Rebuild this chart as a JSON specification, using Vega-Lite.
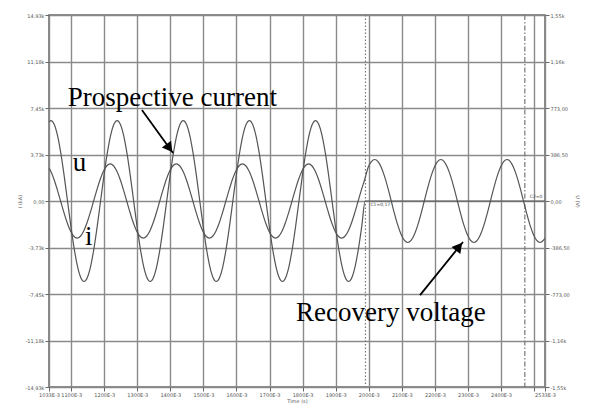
{
  "$schema": "https://vega.github.io/schema/vega-lite/v6.json",
  "width": 496,
  "height": 372,
  "autosize": "none",
  "padding": {"left": 49, "top": 15, "right": 48, "bottom": 19},
  "background": "white",
  "config": {
    "view": {"stroke": "#666", "strokeWidth": 1.5},
    "axis": {
      "labelFont": "DejaVu Sans", "labelFontSize": 5, "labelColor": "#555",
      "titleFont": "DejaVu Sans", "titleFontSize": 5, "titleFontWeight": "normal", "titleColor": "#555",
      "tickColor": "#666", "tickSize": 4, "domain": false,
      "gridColor": "#8a8a8a", "gridWidth": 1.4, "gridOpacity": 1
    }
  },
  "datasets": {
    "current": [
      {"t":1033,"v":6.33},
      {"t":1039,"v":6.45},{"t":1049,"v":6.13},{"t":1059,"v":5.22},{"t":1069,"v":3.79},{"t":1079,"v":1.99},{"t":1089,"v":0},{"t":1099,"v":-1.99},{"t":1109,"v":-3.79},{"t":1119,"v":-5.22},{"t":1129,"v":-6.13},{"t":1139,"v":-6.45},{"t":1149,"v":-6.13},{"t":1159,"v":-5.22},{"t":1169,"v":-3.79},{"t":1179,"v":-1.99},{"t":1189,"v":0},{"t":1199,"v":1.99},{"t":1209,"v":3.79},{"t":1219,"v":5.22},{"t":1229,"v":6.13},
      {"t":1239,"v":6.45},{"t":1249,"v":6.13},{"t":1259,"v":5.22},{"t":1269,"v":3.79},{"t":1279,"v":1.99},{"t":1289,"v":0},{"t":1299,"v":-1.99},{"t":1309,"v":-3.79},{"t":1319,"v":-5.22},{"t":1329,"v":-6.13},{"t":1339,"v":-6.45},{"t":1349,"v":-6.13},{"t":1359,"v":-5.22},{"t":1369,"v":-3.79},{"t":1379,"v":-1.99},{"t":1389,"v":0},{"t":1399,"v":1.99},{"t":1409,"v":3.79},{"t":1419,"v":5.22},{"t":1429,"v":6.13},
      {"t":1439,"v":6.45},{"t":1449,"v":6.13},{"t":1459,"v":5.22},{"t":1469,"v":3.79},{"t":1479,"v":1.99},{"t":1489,"v":0},{"t":1499,"v":-1.99},{"t":1509,"v":-3.79},{"t":1519,"v":-5.22},{"t":1529,"v":-6.13},{"t":1539,"v":-6.45},{"t":1549,"v":-6.13},{"t":1559,"v":-5.22},{"t":1569,"v":-3.79},{"t":1579,"v":-1.99},{"t":1589,"v":0},{"t":1599,"v":1.99},{"t":1609,"v":3.79},{"t":1619,"v":5.22},{"t":1629,"v":6.13},
      {"t":1639,"v":6.45},{"t":1649,"v":6.13},{"t":1659,"v":5.22},{"t":1669,"v":3.79},{"t":1679,"v":1.99},{"t":1689,"v":0},{"t":1699,"v":-1.99},{"t":1709,"v":-3.79},{"t":1719,"v":-5.22},{"t":1729,"v":-6.13},{"t":1739,"v":-6.45},{"t":1749,"v":-6.13},{"t":1759,"v":-5.22},{"t":1769,"v":-3.79},{"t":1779,"v":-1.99},{"t":1789,"v":0},{"t":1799,"v":1.99},{"t":1809,"v":3.79},{"t":1819,"v":5.22},{"t":1829,"v":6.13},
      {"t":1839,"v":6.45},{"t":1849,"v":6.13},{"t":1859,"v":5.22},{"t":1869,"v":3.79},{"t":1879,"v":1.99},{"t":1889,"v":0},{"t":1899,"v":-1.99},{"t":1909,"v":-3.79},{"t":1919,"v":-5.22},{"t":1929,"v":-6.13},{"t":1939,"v":-6.45},{"t":1949,"v":-6.13},{"t":1959,"v":-5.22},{"t":1969,"v":-3.79},{"t":1979,"v":-1.99},{"t":1989,"v":0},
      {"t":2533,"v":0}
    ],
    "voltage": [
      {"t":1033,"u":274},
      {"t":1038,"u":249},{"t":1048,"u":181},{"t":1058,"u":95},{"t":1068,"u":0},{"t":1078,"u":-95},{"t":1088,"u":-181},{"t":1098,"u":-249},{"t":1108,"u":-293},{"t":1118,"u":-308},{"t":1128,"u":-293},{"t":1138,"u":-249},{"t":1148,"u":-181},{"t":1158,"u":-95},{"t":1168,"u":0},{"t":1178,"u":95},{"t":1188,"u":181},{"t":1198,"u":249},{"t":1208,"u":293},
      {"t":1218,"u":308},{"t":1228,"u":293},{"t":1238,"u":249},{"t":1248,"u":181},{"t":1258,"u":95},{"t":1268,"u":0},{"t":1278,"u":-95},{"t":1288,"u":-181},{"t":1298,"u":-249},{"t":1308,"u":-293},{"t":1318,"u":-308},{"t":1328,"u":-293},{"t":1338,"u":-249},{"t":1348,"u":-181},{"t":1358,"u":-95},{"t":1368,"u":0},{"t":1378,"u":95},{"t":1388,"u":181},{"t":1398,"u":249},{"t":1408,"u":293},
      {"t":1418,"u":308},{"t":1428,"u":293},{"t":1438,"u":249},{"t":1448,"u":181},{"t":1458,"u":95},{"t":1468,"u":0},{"t":1478,"u":-95},{"t":1488,"u":-181},{"t":1498,"u":-249},{"t":1508,"u":-293},{"t":1518,"u":-308},{"t":1528,"u":-293},{"t":1538,"u":-249},{"t":1548,"u":-181},{"t":1558,"u":-95},{"t":1568,"u":0},{"t":1578,"u":95},{"t":1588,"u":181},{"t":1598,"u":249},{"t":1608,"u":293},
      {"t":1618,"u":308},{"t":1628,"u":293},{"t":1638,"u":249},{"t":1648,"u":181},{"t":1658,"u":95},{"t":1668,"u":0},{"t":1678,"u":-95},{"t":1688,"u":-181},{"t":1698,"u":-249},{"t":1708,"u":-293},{"t":1718,"u":-308},{"t":1728,"u":-293},{"t":1738,"u":-249},{"t":1748,"u":-181},{"t":1758,"u":-95},{"t":1768,"u":0},{"t":1778,"u":95},{"t":1788,"u":181},{"t":1798,"u":249},{"t":1808,"u":293},
      {"t":1818,"u":308},{"t":1828,"u":293},{"t":1838,"u":249},{"t":1848,"u":181},{"t":1858,"u":95},{"t":1868,"u":0},{"t":1878,"u":-95},{"t":1888,"u":-181},{"t":1898,"u":-249},{"t":1908,"u":-293},{"t":1918,"u":-308},{"t":1928,"u":-293},{"t":1938,"u":-249},{"t":1948,"u":-181},{"t":1958,"u":-95},{"t":1968,"u":0},{"t":1978,"u":95},{"t":1988,"u":181},
      {"t":1998,"u":279},{"t":2008,"u":328},
      {"t":2018,"u":345},{"t":2028,"u":328},{"t":2038,"u":279},{"t":2048,"u":203},{"t":2058,"u":107},{"t":2068,"u":0},{"t":2078,"u":-107},{"t":2088,"u":-203},{"t":2098,"u":-279},{"t":2108,"u":-328},{"t":2118,"u":-345},{"t":2128,"u":-328},{"t":2138,"u":-279},{"t":2148,"u":-203},{"t":2158,"u":-107},{"t":2168,"u":0},{"t":2178,"u":107},{"t":2188,"u":203},{"t":2198,"u":279},{"t":2208,"u":328},
      {"t":2218,"u":345},{"t":2228,"u":328},{"t":2238,"u":279},{"t":2248,"u":203},{"t":2258,"u":107},{"t":2268,"u":0},{"t":2278,"u":-107},{"t":2288,"u":-203},{"t":2298,"u":-279},{"t":2308,"u":-328},{"t":2318,"u":-345},{"t":2328,"u":-328},{"t":2338,"u":-279},{"t":2348,"u":-203},{"t":2358,"u":-107},{"t":2368,"u":0},{"t":2378,"u":107},{"t":2388,"u":203},{"t":2398,"u":279},{"t":2408,"u":328},
      {"t":2418,"u":345},{"t":2428,"u":328},{"t":2438,"u":279},{"t":2448,"u":203},{"t":2458,"u":107},{"t":2468,"u":0},{"t":2478,"u":-107},{"t":2488,"u":-203},{"t":2498,"u":-279},{"t":2508,"u":-328},{"t":2518,"u":-345},{"t":2528,"u":-328},{"t":2533,"u":-307}
    ],
    "notes": [
      {"t":1090,"v":7.62,"label":"Prospective current"},
      {"t":1105,"v":2.4,"label":"u"},
      {"t":1142,"v":-3.53,"label":"i"},
      {"t":1780,"v":-9.62,"label":"Recovery voltage"}
    ],
    "cursorNotes": [
      {"t":2005,"v":-0.3,"label":"C1=0,17"},
      {"t":2487,"v":0.3,"label":"C2=0"}
    ],
    "arrows": [
      {"name":"a1","t":1314,"v":7.29,"t2":1408,"v2":3.85},
      {"name":"a2","t":2155,"v":-7.54,"t2":2285,"v2":-3.29}
    ],
    "heads": [
      {"name":"a1","t":1397,"v":4.24},
      {"name":"a2","t":2273,"v":-3.66}
    ],
    "cursors": [
      {"name":"C1","t":1990},
      {"name":"C2","t":2472}
    ]
  },
  "encoding": {
    "x": {"field": "t", "type": "quantitative", "scale": {"domain": [1033, 2533], "nice": false, "zero": false},
      "axis": {"title": "Time (s)", "values": [1033,1100,1200,1300,1400,1500,1600,1700,1800,1900,2000,2100,2200,2300,2400,2500,2533],
        "labelExpr": "datum.value == 2500 ? '' : format(datum.value,'d') + 'E-3'", "labelPadding": 1, "titlePadding": 1, "grid": true, "labelFlush": false, "labelOverlap": false}}
  },
  "layer": [
    {
      "encoding": {
        "y": {"field": "v", "type": "quantitative", "scale": {"domain": [-14.91, 14.91], "nice": false, "zero": false},
          "axis": {"title": "I (kA)", "orient": "left", "grid": true, "labelPadding": 1, "titlePadding": 2,
            "values": [-14.91,-11.1825,-7.455,-3.7275,0,3.7275,7.455,11.1825,14.91],
            "labelExpr": "datum.value>14?'14,93k':datum.value>11?'11,18k':datum.value>7?'7,45k':datum.value>3?'3,73k':datum.value>-1?'0,00':datum.value>-4?'-3,73k':datum.value>-8?'-7,45k':datum.value>-12?'-11,18k':'-14,93k'"}}
      },
      "layer": [
        {
          "data": {"name": "current"},
          "mark": {"type": "line", "color": "#555", "strokeWidth": 1.2, "interpolate": "monotone", "clip": true}
        },
        {
          "data": {"name": "notes"},
          "mark": {"type": "text", "font": "Liberation Serif", "fontSize": 27, "color": "black", "align": "left", "baseline": "alphabetic"},
          "encoding": {"text": {"field": "label"}}
        },
        {
          "data": {"name": "cursorNotes"},
          "mark": {"type": "text", "font": "DejaVu Sans", "fontSize": 4.5, "color": "#444", "align": "left", "baseline": "middle"},
          "encoding": {"text": {"field": "label"}}
        },
        {
          "data": {"name": "arrows"},
          "mark": {"type": "rule", "color": "black", "strokeWidth": 1.8},
          "encoding": {"x2": {"field": "t2"}, "y2": {"field": "v2"}}
        },
        {
          "data": {"name": "heads"},
          "transform": [{"filter": "datum.name == 'a1'"}],
          "mark": {"type": "point", "shape": "triangle-up", "filled": true, "color": "black", "opacity": 1, "size": 130, "angle": 144}
        },
        {
          "data": {"name": "heads"},
          "transform": [{"filter": "datum.name == 'a2'"}],
          "mark": {"type": "point", "shape": "triangle-up", "filled": true, "color": "black", "opacity": 1, "size": 130, "angle": 39}
        }
      ]
    },
    {
      "data": {"name": "cursors"},
      "transform": [{"filter": "datum.name == 'C1'"}],
      "mark": {"type": "rule", "color": "#777", "strokeWidth": 1.2, "strokeDash": [1.5, 2]},
      "encoding": {}
    },
    {
      "data": {"name": "cursors"},
      "transform": [{"filter": "datum.name == 'C2'"}],
      "mark": {"type": "rule", "color": "#777", "strokeWidth": 1.2, "strokeDash": [5, 2, 1.5, 2]},
      "encoding": {}
    },
    {
      "data": {"name": "voltage"},
      "mark": {"type": "line", "color": "#555", "strokeWidth": 1.2, "interpolate": "monotone", "clip": true},
      "encoding": {
        "y": {"field": "u", "type": "quantitative", "scale": {"domain": [-1546, 1546], "nice": false, "zero": false},
          "axis": {"title": "U (V)", "orient": "right", "grid": false, "labelPadding": 1, "titlePadding": 5,
            "values": [-1546,-1159.5,-773,-386.5,0,386.5,773,1159.5,1546],
            "labelExpr": "datum.value>1500?'1,55k':datum.value>1100?'1,16k':datum.value>700?'773,00':datum.value>300?'386,50':datum.value>-100?'0,00':datum.value>-400?'-386,50':datum.value>-800?'-773,00':datum.value>-1200?'-1,16k':'-1,55k'"}}
      }
    }
  ],
  "resolve": {"scale": {"y": "independent"}}
}
